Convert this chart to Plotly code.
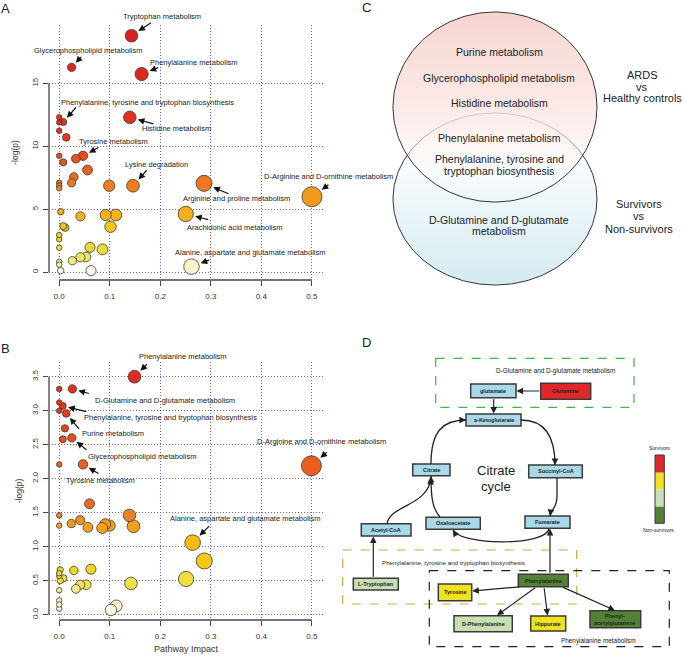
import numpy as np
import plotly.graph_objects as go

W, H = 685, 660
FONT = "Liberation Sans, Arial, Helvetica, sans-serif"

# ---------------- data : panel A (ARDS vs healthy controls) ----------------
impact_A = [0.143, 0.0245, 0.163, 0.0, 0.0, 0.008, 0.0, 0.014, 0.1397,
            0.0, 0.008, 0.033, 0.047, 0.056, 0.029, 0.0245, 0.0, 0.0, 0.0,
            0.099, 0.146, 0.2865, 0.5, 0.003, 0.042, 0.092, 0.112, 0.1015,
            0.2504, 0.008, 0.012, 0.0, 0.0, 0.0, 0.061, 0.0857, 0.053, 0.042,
            0.026, 0.0, 0.0, 0.003, 0.063, 0.2617]
logp_A = [18.78, 16.27, 15.74, 12.30, 11.90, 11.93, 11.24, 10.71, 12.30,
          9.25, 8.73, 9.02, 9.25, 8.12, 7.57, 7.11, 7.11, 6.89, 6.67,
          6.87, 6.87, 7.06, 6.00, 4.81, 4.44, 4.55, 4.55, 3.62,
          4.63, 3.67, 3.54, 2.96, 2.62, 1.95, 1.98, 1.82, 1.22, 1.19,
          0.92, 0.84, 0.60, 0.13, 0.13, 0.45]
labels_A = ["Tryptophan metabolism", "Glycerophospholipid metabolism",
            "Phenylalanine metabolism",
            "Phenylalanine, tyrosine and tryptophan biosynthesis",
            "Histidine metabolism", "Tyrosine metabolism", "Lysine degradation",
            "Arginine and proline metabolism",
            "D-Arginine and D-ornithine metabolism",
            "Arachidonic acid metabolism",
            "Alanine, aspartate and glutamate metabolism"]
label_idx_A = [0, 1, 2, 5, 8, 12, 20, 21, 22, 28, 43]

# ---------------- data : panel B (survivors vs non-survivors) ----------------
impact_B = [0.149, 0.0, 0.026, 0.0, 0.007, 0.0, 0.0139, 0.0113, 0.0073, 0.025,
            0.0, 0.047, 0.499, 0.06, 0.0, 0.139, 0.0238, 0.0416, 0.0568, 0.0,
            0.085, 0.091, 0.0996, 0.147, 0.264, 0.287, 0.251, 0.002, 0.0, 0.0,
            0.0085, 0.002, 0.029, 0.0628, 0.142, 0.0416, 0.0535, 0.033, 0.0, 0.0,
            0.0, 0.0, 0.113, 0.1024]
logp_B = [3.50, 3.32, 3.32, 3.12, 3.07, 3.00, 2.96, 2.74, 2.58, 2.60,
          2.21, 2.21, 2.19, 1.63, 1.46, 1.46, 1.34, 1.39, 1.285, 1.31,
          1.275, 1.33, 1.31, 1.30, 1.06, 0.79, 0.525, 0.66, 0.61, 0.57,
          0.535, 0.50, 0.65, 0.67, 0.46, 0.44, 0.44, 0.38, 0.36, 0.21,
          0.15, 0.09, 0.13, 0.07]
labels_B = ["Phenylalanine metabolism", "D-Glutamine and D-glutamate metabolism",
            "Phenylalanine, tyrosine and tryptophan biosynthesis",
            "Purine metabolism", "Glycerophospholipid metabolism",
            "Tyrosine metabolism", "D-Arginine and D-ornithine metabolism",
            "Alanine, aspartate and glutamate metabolism"]
label_idx_B = [0, 2, 4, 6, 9, 11, 12, 24]

x_ticks = [0, 0.1, 0.2, 0.3, 0.4, 0.5]
x_ticktext = ["0.0", "0.1", "0.2", "0.3", "0.4", "0.5"]
yA_ticks = [0, 5, 10, 15]
yB_ticks = [0, 0.5, 1.0, 1.5, 2.0, 2.5, 3.0, 3.5]
yB_ticktext = ["0.0", "0.5", "1.0", "1.5", "2.0", "2.5", "3.0", "3.5"]

# ---------------- panel C text ----------------
venn_top = ["Purine metabolism", "Glycerophospholipid metabolism", "Histidine metabolism"]
venn_shared = ["Phenylalanine metabolism", "Phenylalanine, tyrosine and", "tryptophan biosynthesis"]
venn_bottom = ["D-Glutamine and D-glutamate", "metabolism"]
group_top = ["ARDS", "vs", "Healthy controls"]
group_bottom = ["Survivors", "vs", "Non-survivors"]

# ---------------- layout helpers (pixels) ----------------
def dom_x(a, b):
    return [a / W, b / W]

def dom_y(top, bottom):
    return [1 - bottom / H, 1 - top / H]

scale_A = [[0, '#FFFFFF'], [0.02, '#FBF6DC'], [0.04, '#F3EC8A'], [0.1, '#EADB34'],
           [0.2, '#F2C514'], [0.25, '#F4AE18'], [0.32, '#F29A1E'], [0.37, '#EE7A20'],
           [0.42, '#EA6420'], [0.5, '#E6481E'], [0.6, '#E2321E'], [1, '#D9221E']]
scale_B = [[0, '#FFFFFF'], [0.03, '#FAF4D4'], [0.06, '#F4EEB0'], [0.11, '#F0E888'],
           [0.13, '#EEE04A'], [0.19, '#EDD624'], [0.23, '#F6C612'], [0.3, '#F8BC10'],
           [0.37, '#F5A020'], [0.4, '#F08A22'], [0.47, '#E86822'], [0.63, '#EC5E20'],
           [0.75, '#E84A20'], [0.85, '#E43A20'], [1, '#E02A22']]

def msize(x):
    x = np.asarray(x, float)
    return 5.5 + 17 * np.sqrt(x) + 5 * x

fig = go.Figure()

for xs, ys, cs, xa, ya in [(impact_A, logp_A, scale_A, 'x', 'y'),
                           (impact_B, logp_B, scale_B, 'x2', 'y2')]:
    order = np.argsort(msize(xs))[::-1]
    xs_o = [xs[i] for i in order]
    ys_o = [ys[i] for i in order]
    fig.add_trace(go.Scatter(
        x=xs_o, y=ys_o, mode='markers', xaxis=xa, yaxis=ya, showlegend=False,
        cliponaxis=False,
        marker=dict(size=msize(xs_o), color=ys_o, colorscale=cs, cmin=0, cmax=max(ys),
                    line=dict(color='#3a3a3a', width=0.8), opacity=1)))

GRID = 'rgba(80,80,220,0.9)'
TICKFONT = dict(family=FONT, size=8, color='#333')
common_x = dict(range=[-0.0202, 0.5219], tickvals=x_ticks, ticktext=x_ticktext,
                showgrid=True, gridcolor=GRID, griddash='1px,2px', gridwidth=1,
                zeroline=False, showline=False, ticks='outside', ticklen=5,
                tickcolor='#444', tickfont=TICKFONT, ticklabelstandoff=3)
common_y = dict(showgrid=True, gridcolor=GRID, griddash='1px,2px', gridwidth=1,
                zeroline=False, showline=False, ticks='outside', ticklen=5,
                tickcolor='#444', tickfont=TICKFONT, tickangle=-90, ticklabelstandoff=2)

fig.update_layout(
    width=W, height=H, margin=dict(l=0, r=0, t=0, b=0),
    paper_bgcolor='white', plot_bgcolor='rgba(0,0,0,0)',
    font=dict(family=FONT, color='#222'),
    xaxis=dict(domain=dom_x(49, 323), anchor='y', **common_x),
    yaxis=dict(domain=dom_y(25, 280), anchor='x', range=[-0.611, 19.63],
               tickvals=yA_ticks,
               title=dict(text='-log(p)', font=dict(size=8.5, color='#333'), standoff=10),
               **common_y),
    xaxis2=dict(domain=dom_x(49, 323), anchor='y2',
                title=dict(text='Pathway Impact', font=dict(size=9, color='#333'), standoff=6),
                **common_x),
    yaxis2=dict(domain=dom_y(362, 620), anchor='x2', range=[-0.078, 3.716],
                tickvals=yB_ticks, ticktext=yB_ticktext,
                title=dict(text='-log(p)', font=dict(size=8.5, color='#333'), standoff=6),
                **common_y),
    xaxis3=dict(domain=[0, 1], range=[0, W], visible=False, anchor='y3', fixedrange=True),
    yaxis3=dict(domain=[0, 1], range=[H, 0], visible=False, anchor='x3', fixedrange=True),
)

shapes = []
annotations = []

# R-style axis lines covering only the tick range
for xr, yr, ymax in [('x', 'y', 15), ('x2', 'y2', 3.5)]:
    shapes.append(dict(type='line', xref=xr, yref=yr + ' domain', x0=0, x1=0.5, y0=0, y1=0,
                       line=dict(color='#444', width=1.3)))
    shapes.append(dict(type='line', xref=xr + ' domain', yref=yr, x0=0, x1=0, y0=0, y1=ymax,
                       line=dict(color='#444', width=1.3)))

# point labels (text position in pixels) and arrows to the points
text_pos_A = [(161.7, 16), (88.3, 50), (194, 62), (147, 102.7), (176.7, 128.3),
              (113, 141.7), (156, 164.3), (236, 198.3), (328, 176), (234, 227.3),
              (250, 252.3)]
arrow_off_A = [(21, -14), (11, -12), (18, -7), (14, -16), (25, 7), (17, -9),
               (15, -17), (26, 11), (18, -13), (24, 6), (19, -7)]
text_pos_B = [(183.3, 356), (164.5, 400), (170.8, 417.3), (112.5, 433.3),
              (142, 456.7), (100, 480), (321, 441), (245, 518.3)]
arrow_off_B = [(14, -14), (18, 5), (25, 6), (14, 17), (16, 13), (17, 10),
               (17, -15), (18, -18)]

for labels, idx, tpos, aoff, xs, ys, xr, yr in [
        (labels_A, label_idx_A, text_pos_A, arrow_off_A, impact_A, logp_A, 'x', 'y'),
        (labels_B, label_idx_B, text_pos_B, arrow_off_B, impact_B, logp_B, 'x2', 'y2')]:
    for lab, i, (tx, ty), (ox, oy) in zip(labels, idx, tpos, aoff):
        annotations.append(dict(text=lab, x=tx, y=ty, xref='x3', yref='y3', showarrow=False,
                                xanchor='center', yanchor='middle',
                                font=dict(size=7.5, color='#222')))
        r = float(msize([xs[i]])[0]) / 2
        annotations.append(dict(text='', x=xs[i], y=ys[i], xref=xr, yref=yr,
                                ax=ox, ay=oy, showarrow=True, arrowhead=2, arrowsize=1.1,
                                arrowwidth=1.2, arrowcolor='#111', standoff=r + 2))

# panel letters
for letter, lx, ly in [('A', 5.5, 8.5), ('B', 5.5, 348), ('C', 366.7, 7), ('D', 366.7, 342)]:
    annotations.append(dict(text=letter, x=lx, y=ly, xref='x3', yref='y3', showarrow=False,
                            xanchor='center', yanchor='middle', font=dict(size=13, color='#222')))

# ---------------- panel C : Venn ----------------
t = np.linspace(0, 2 * np.pi, 240)
ell_low = (495, 199, 102, 86)
ell_up = (495, 107, 102, 95)
cx, cy, rx, ry = ell_low
fig.add_trace(go.Scatter(x=cx + rx * np.cos(t), y=cy + ry * np.sin(t), xaxis='x3', yaxis='y3',
                         mode='lines', line=dict(color='#333', width=1), fill='toself',
                         fillgradient=dict(type='vertical', start=140, stop=285,
                                           colorscale=[[0, 'rgb(255,255,255)'], [1, 'rgb(212,235,241)']]),
                         showlegend=False, hoverinfo='skip'))
cx, cy, rx, ry = ell_up
fig.add_trace(go.Scatter(x=cx + rx * np.cos(t), y=cy + ry * np.sin(t), xaxis='x3', yaxis='y3',
                         mode='lines', line=dict(color='#333', width=1), fill='toself',
                         fillgradient=dict(type='vertical', start=12, stop=195,
                                           colorscale=[[0, 'rgba(246,212,207,1)'],
                                                       [0.6, 'rgba(251,232,229,0.8)'],
                                                       [1, 'rgba(255,255,255,0)']]),
                         showlegend=False, hoverinfo='skip'))

venn_lines = list(zip(venn_top, [51.7, 78.3, 103.3])) + \
    list(zip(venn_shared, [137.7, 158.5, 171])) + list(zip(venn_bottom, [219.5, 231]))
for txt, y in venn_lines:
    annotations.append(dict(text=txt, x=499, y=y, xref='x3', yref='y3', showarrow=False,
                            xanchor='center', yanchor='middle', font=dict(size=10.5, color='#222')))
for txt, y in zip(group_top, [75, 86.5, 98]):
    annotations.append(dict(text=txt, x=642, y=y, xref='x3', yref='y3', showarrow=False,
                            xanchor='center', yanchor='middle', font=dict(size=11, color='#222')))
for txt, y in zip(group_bottom, [204, 216, 229]):
    annotations.append(dict(text=txt, x=639, y=y, xref='x3', yref='y3', showarrow=False,
                            xanchor='center', yanchor='middle', font=dict(size=11, color='#222')))

# ---------------- panel D : pathway diagram ----------------
LB, RED, LG, DG, YEL = '#A9D8E6', '#E0282A', '#C6E0B4', '#548235', '#F0E21E'
dashed = [((435.7, 358.3, 634, 407.3), '#3CB54A'),
          ((342.7, 550, 576.7, 604), '#D9A441'),
          ((429.3, 570.7, 669.3, 646.7), '#222')]
for (x0, y0, x1, y1), c in dashed:
    shapes.append(dict(type='rect', xref='x3', yref='y3', x0=x0, y0=y0, x1=x1, y1=y1,
                       line=dict(color=c, width=1.2, dash='dash'), fillcolor='rgba(0,0,0,0)'))

boxes = [("glutamate", (470.7, 384, 516, 397.7), LB),
         ("Glutamine", (540.7, 383.3, 590.7, 399.3), RED),
         ("a-Ketoglutarate", (466, 414, 521, 426), LB),
         ("Citrate", (412.7, 464, 450, 475.7), LB),
         ("Succinyl-CoA", (528.7, 465, 582.3, 477.7), LB),
         ("Oxaloacetate", (426, 517.3, 480.3, 529.3), LB),
         ("Fumarate", (525, 516, 570, 528.3), LB),
         ("Acetyl-CoA", (361.3, 523.7, 411, 536), LB),
         ("L-Tryptophan", (353.3, 578.3, 398.3, 590), LG),
         ("Phenylalanine", (518.3, 574.3, 568.3, 586.7), DG),
         ("Tyrosine", (438.3, 584, 471.7, 600.7), YEL),
         ("D-Phenylalanine", (454, 615.7, 512.3, 631.7), LG),
         ("Hippurate", (530.7, 616, 565.7, 631), YEL),
         ("Phenyl-<br>acetylglutamine", (590, 610.7, 640.7, 627.7), DG)]
for name, (x0, y0, x1, y1), c in boxes:
    shapes.append(dict(type='rect', xref='x3', yref='y3', x0=x0, y0=y0, x1=x1, y1=y1,
                       line=dict(color='#3a3a3a', width=1.5), fillcolor=c))
    annotations.append(dict(text='<b>' + name + '</b>', x=(x0 + x1) / 2, y=(y0 + y1) / 2,
                            xref='x3', yref='y3', showarrow=False, xanchor='center',
                            yanchor='middle', font=dict(size=5.5, color='#222')))

d_texts = [("D-Glutamine and D-glutamate metabolism", 555, 371.3, 6.4),
           ("Phenylalanine, tyrosine and tryptophan biosynthesis", 453.3, 562.7, 6.2),
           ("Phenylalanine metabolism", 598.3, 640.7, 6.4),
           ("Citrate", 495.5, 470, 13), ("cycle", 495.5, 486, 13),
           ("Survivors", 659.7, 448.3, 5), ("Non-survivors", 658.7, 530, 5)]
for txt, x, y, s in d_texts:
    annotations.append(dict(text=txt, x=x, y=y, xref='x3', yref='y3', showarrow=False,
                            xanchor='center', yanchor='middle', font=dict(size=s, color='#222')))

# legend colour bar
for (y0, y1), c in zip([(455, 472.7), (472.7, 489.3), (489.3, 506.7), (506.7, 523.3)],
                       [RED, YEL, LG, DG]):
    shapes.append(dict(type='rect', xref='x3', yref='y3', x0=655, x1=664.3, y0=y0, y1=y1,
                       line=dict(width=0), fillcolor=c))
shapes.append(dict(type='rect', xref='x3', yref='y3', x0=655, x1=664.3, y0=455, y1=523.3,
                   line=dict(color='#3a3a3a', width=1), fillcolor='rgba(0,0,0,0)'))

# straight arrows (tail -> head)
straight = [(540.7, 391, 516.5, 391), (493.7, 397.7, 493.7, 413.5),
            (373.3, 578.3, 373.3, 536.5), (550, 574.3, 550, 528.8),
            (521, 586.7, 472.2, 591), (536.7, 586.7, 497, 615.3),
            (544, 586.7, 547.5, 615.5), (561.7, 586.7, 615, 610.5)]
for x0, y0, x1, y1 in straight:
    annotations.append(dict(text='', x=x1, y=y1, ax=x0, ay=y0, xref='x3', yref='y3',
                            axref='x3', ayref='y3', showarrow=True, arrowhead=2,
                            arrowsize=1.1, arrowwidth=1.2, arrowcolor='#222', standoff=0))

# curved arrows of the citrate cycle: path + arrowhead (tail point, head point)
curves = [("M 431 464 C 431 432, 442 420, 466 420", (459, 420), (466, 420)),
          ("M 521 420 C 545 420, 555 436, 555 465", (555, 458), (555, 465)),
          ("M 557 478 L 557 496 C 557 508, 552 508, 550 516", (551, 509), (550, 516)),
          ("M 549 529 C 545 546, 462 546, 453 530", (456.5, 536), (453, 530)),
          ("M 440 517 C 432 508, 431 496, 431 476", (431, 483), (431, 476)),
          ("M 387 523.7 C 390 505, 428 506, 431 478", (430.5, 485), (431, 478))]
for path, (tx, ty), (hx, hy) in curves:
    shapes.append(dict(type='path', xref='x3', yref='y3', path=path,
                       line=dict(color='#222', width=1.3)))
    annotations.append(dict(text='', x=hx, y=hy, ax=tx, ay=ty, xref='x3', yref='y3',
                            axref='x3', ayref='y3', showarrow=True, arrowhead=2,
                            arrowsize=1.1, arrowwidth=1.2, arrowcolor='#222', standoff=0))

fig.update_layout(shapes=shapes, annotations=annotations)
fig.write_html("out.html", config={'displayModeBar': False},
               post_script="document.body.style.margin='0px';document.body.style.padding='0px';")
